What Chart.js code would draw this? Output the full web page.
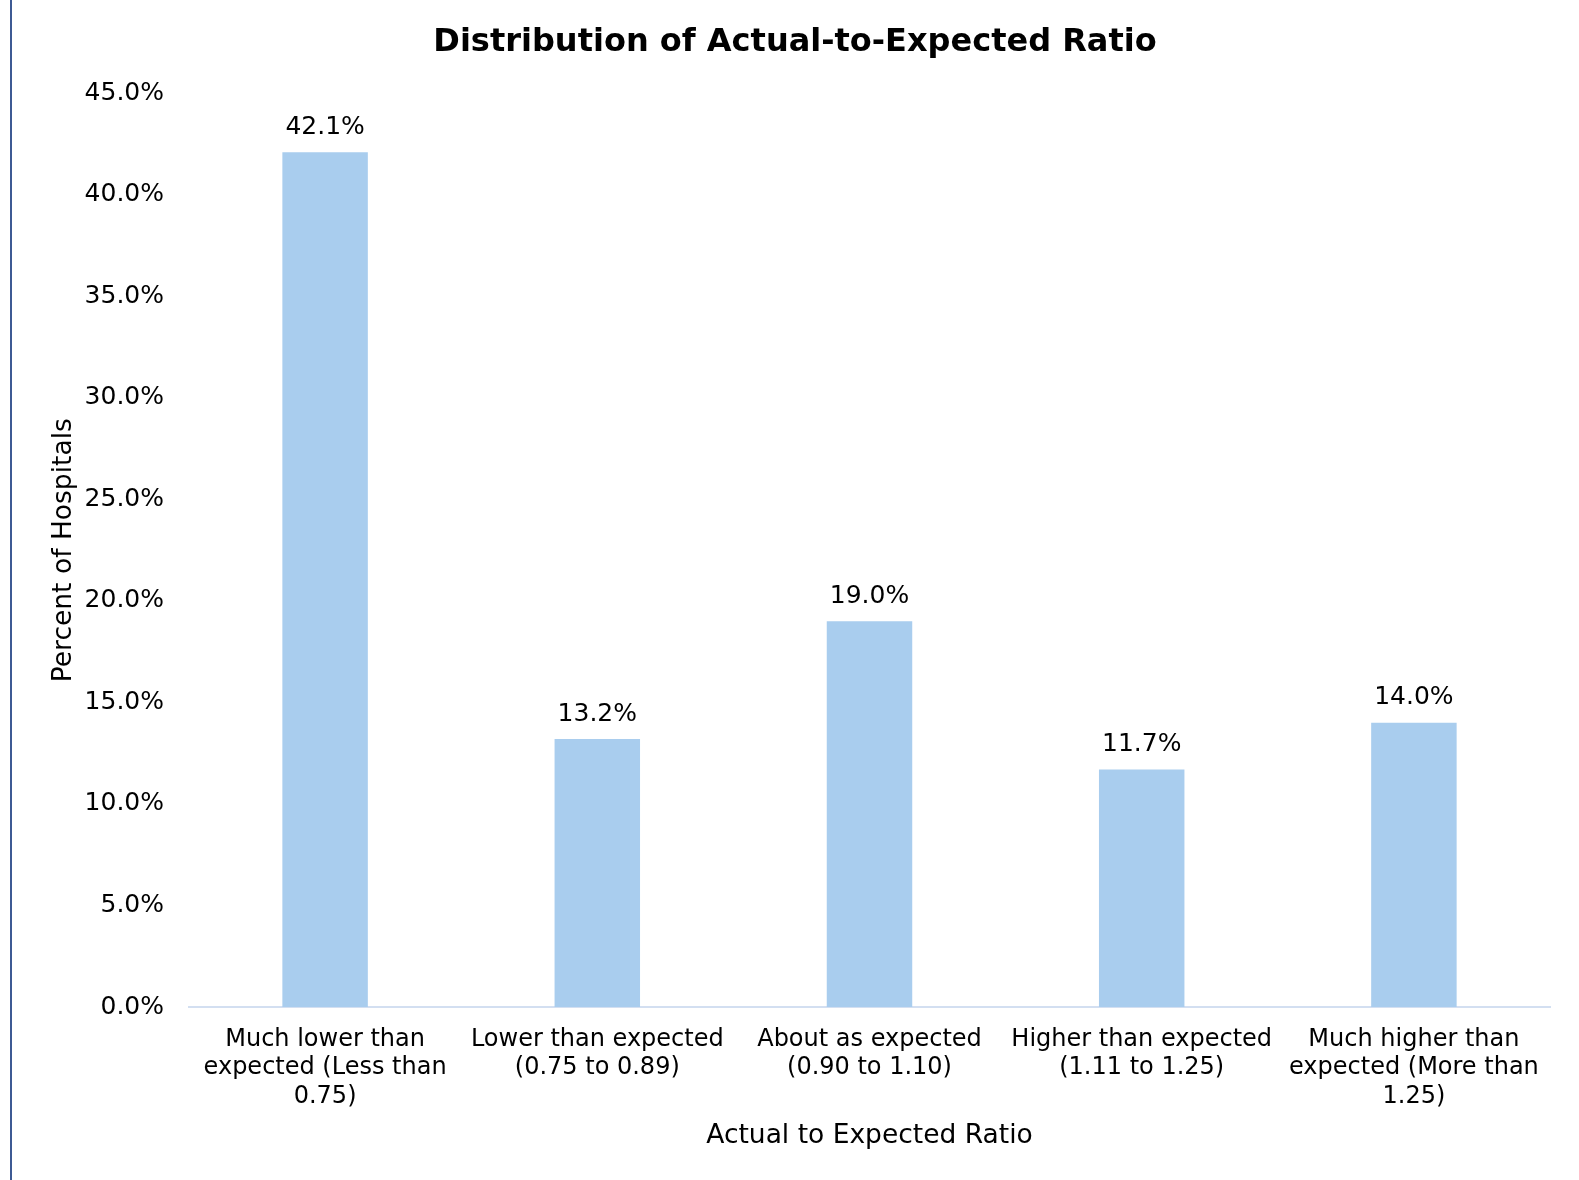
<!DOCTYPE html>
<html>
<head>
<meta charset="utf-8">
<script src="https://cdn.jsdelivr.net/npm/chart.js@4/dist/chart.umd.min.js"></script>
<style>
html,body{margin:0;padding:0;background:#fff;}
#wrap{position:relative;width:1579px;height:1180px;}
#edge{position:absolute;left:10px;top:0;width:2px;height:1180px;background:#3d5a94;}
canvas{position:absolute;left:0;top:0;}
</style>
</head>
<body>
<div id="wrap"><div id="edge"></div><canvas id="c" width="1579" height="1180"></canvas></div>
<script>
const categories = [
  ["Much lower than", "expected (Less than", "0.75)"],
  ["Lower than expected", "(0.75 to 0.89)"],
  ["About as expected", "(0.90 to 1.10)"],
  ["Higher than expected", "(1.11 to 1.25)"],
  ["Much higher than", "expected (More than", "1.25)"]
];
const percentValues = [42.1, 13.2, 19.0, 11.7, 14.0];
const titleText = "Distribution of Actual-to-Expected Ratio";
const xTitle = "Actual to Expected Ratio";
const yTitle = "Percent of Hospitals";

const FONT = "'DejaVu Sans', Verdana, sans-serif";

const labelPlugin = {
  id: 'barLabels',
  afterDatasetsDraw(chart) {
    const ctx = chart.ctx;
    const meta = chart.getDatasetMeta(0);
    ctx.save();
    ctx.font = "25px " + FONT;
    ctx.fillStyle = "#000";
    ctx.textAlign = "center";
    ctx.textBaseline = "middle";
    meta.data.forEach((bar, i) => {
      ctx.fillText(percentValues[i].toFixed(1) + "%", bar.x, bar.y - 25);
    });
    ctx.restore();
  }
};

new Chart(document.getElementById('c'), {
  type: 'bar',
  data: {
    labels: categories,
    datasets: [{
      data: percentValues,
      backgroundColor: '#a9cdee',
      borderWidth: 0,
      barPercentage: 0.314,
      categoryPercentage: 1.0
    }]
  },
  options: {
    responsive: false,
    animation: false,
    devicePixelRatio: 1,
    layout: { padding: { left: 40, right: 29, top: 13, bottom: 0 } },
    plugins: {
      legend: { display: false },
      tooltip: { enabled: false },
      title: {
        display: true,
        text: titleText,
        color: '#000',
        font: { family: FONT, size: 32, weight: 'bold' },
        padding: { top: 10, bottom: 32 }
      }
    },
    scales: {
      x: {
        grid: { display: false, drawTicks: false },
        border: { display: true, color: '#d3dff1', width: 2 },
        ticks: {
          color: '#000',
          font: { family: FONT, size: 24, lineHeight: 1.2 },
          padding: 18,
          maxRotation: 0,
          autoSkip: false
        },
        title: {
          display: true,
          text: xTitle,
          color: '#000',
          font: { family: FONT, size: 26.5 },
          padding: { top: 10, bottom: 28 }
        },
        afterFit(scale) { scale.height = 173; }
      },
      y: {
        min: 0,
        max: 45,
        grid: { display: false, drawTicks: false },
        border: { display: false },
        ticks: {
          stepSize: 5,
          color: '#000',
          font: { family: FONT, size: 25 },
          padding: 25,
          callback: v => Number(v).toFixed(1) + '%'
        },
        title: {
          display: true,
          text: yTitle,
          color: '#000',
          font: { family: FONT, size: 26.5 },
          padding: { top: 8, bottom: 8 }
        },
        afterFit(scale) { scale.width = 149; }
      }
    }
  },
  plugins: [labelPlugin]
});
</script>
</body>
</html>
